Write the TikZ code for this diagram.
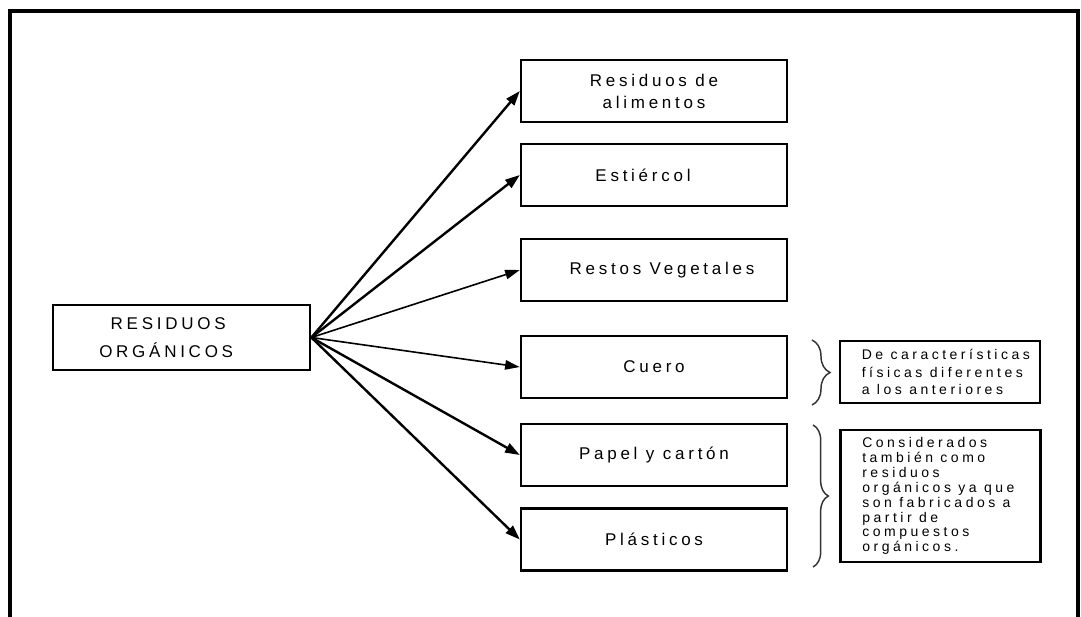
\documentclass[tikz,border=0pt]{standalone}
\usepackage{fontspec}
\setmainfont{Liberation Sans}
\newfontfamily\spacedA[LetterSpace=22]{Liberation Sans}
\newfontfamily\spacedB[LetterSpace=25]{Liberation Sans}
\usetikzlibrary{arrows.meta,decorations.pathreplacing}
\begin{document}
\begin{tikzpicture}[x=0.75pt,y=-0.75pt,
  mainbox/.style={draw,line width=1.8pt,minimum width=199.5pt,minimum height=46.5pt,inner sep=0pt,align=center,
    font=\spacedA\fontsize{12.75pt}{16.5pt}\selectfont},
  notebox/.style={draw,line width=1.7pt,minimum width=150pt,inner sep=0pt},
  notetext/.style={anchor=west,inner sep=0pt,align=left,font=\spacedB\fontsize{10.5pt}{13.1pt}\selectfont},
  arr/.style={-{Triangle[length=11pt,width=7.5pt]},line width=1.8pt},
  arrthin/.style={-{Triangle[length=11pt,width=7pt]},line width=1.2pt},
  bracestyle/.style={draw=black!80,line width=1.1pt,decorate}
]
\useasboundingbox (0,0) rectangle (1081,617);
\clip (0,0) rectangle (1081,617);
% frame
\draw[line width=3pt] (10,650) -- (10,11.5) -- (1078,11.5) -- (1078,650);

% main node
\node[draw,line width=1.8pt,minimum width=193pt,minimum height=48.75pt,inner sep=0pt,align=center,
  font=\spacedA\fontsize{12.75pt}{21pt}\selectfont] (ro) at (181.5,337.5)
  {RESIDUOS\hspace*{20pt}\\ORGÁNICOS\hspace*{23pt}};

% targets
\node[mainbox] (b1) at (654,91) {Residuos de\\alimentos};
\node[mainbox] (b2) at (654,175) {Estiércol\hspace*{16.5pt}};
\node[mainbox] (b3) at (654,270) {\hspace*{12pt}Restos Vegetales};
\node[mainbox] (b4) at (654,367) {Cuero};
\node[mainbox] (b5) at (654,455) {Papel y cartón};
\node[mainbox] (b6) at (654,539.5) {Plásticos};

% arrows
\draw[arr] (ro.east) -- (b1.west);
\draw[arr] (ro.east) -- (b2.west);
\draw[arrthin] (ro.east) -- (b3.west);
\draw[arrthin] (ro.east) -- (b4.west);
\draw[arr] (ro.east) -- (b5.west);
\draw[arr] (ro.east) -- (b6.west);

% notes
\node[notebox,minimum height=46.5pt] (n1) at (940,372) {};
\node[notetext] (n1t) at ([xshift=17pt]n1.west) {De características\\físicas diferentes\\a los anteriores};
\node[notebox,minimum height=99pt] (n2) at (940.5,496) {};
\node[notetext,font=\spacedB\fontsize{10.5pt}{11.2pt}\selectfont] (n2t) at ([xshift=17pt]n2.west)
  {Considerados\\también como\\residuos\\orgánicos ya que\\son fabricados a\\partir de\\compuestos\\orgánicos.};

% braces
\coordinate (br1a) at (812,340);
\coordinate (br1b) at (812,405);
\coordinate (br2a) at (813,425);
\coordinate (br2b) at (813,567);
\draw[bracestyle,decoration={brace,amplitude=13.5pt}] (br1a) -- (br1b);
\draw[bracestyle,decoration={brace,amplitude=11.5pt}] (br2a) -- (br2b);
\end{tikzpicture}
\end{document}
